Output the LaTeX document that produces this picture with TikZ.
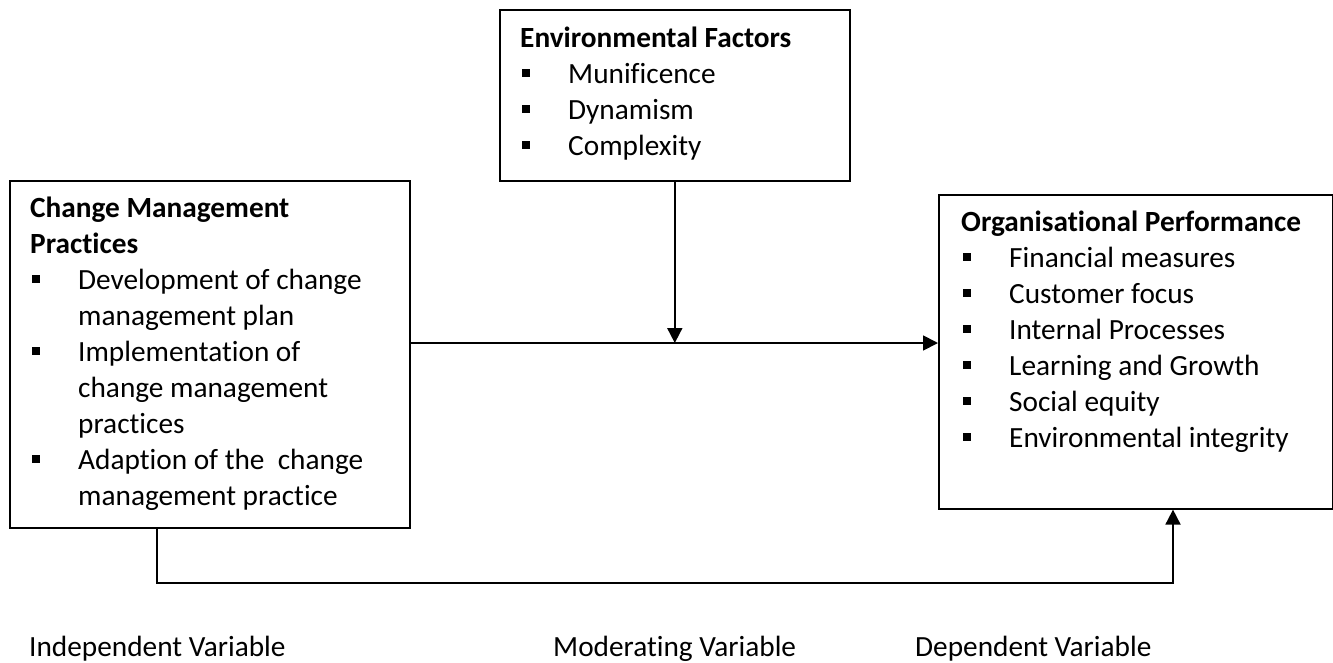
\documentclass[tikz,border=0pt]{standalone}
\usepackage{fontspec}
\setmainfont{Carlito}[Ligatures=NoCommon]
\usetikzlibrary{arrows.meta}
\newcommand{\sqb}{\makebox[48pt][l]{\hspace{2pt}\raisebox{6pt}{\rule{8pt}{8pt}}}}
\newcommand{\ind}{\hspace*{48pt}}
\begin{document}
\begin{tikzpicture}[x=1pt,y=-1pt,
  box/.style={draw, line width=1.6pt, anchor=north west, inner sep=0pt},
  txt/.style={anchor=north west, align=left, inner sep=0pt, font=\fontsize{29.3}{36}\selectfont},
  lab/.style={anchor=base west, inner sep=0pt, font=\fontsize{29.3}{36}\selectfont},
  conn/.style={line width=1.8pt},
  arr/.style={conn, -{Triangle[length=15pt,width=15pt]}}]
\useasboundingbox (0,0) rectangle (1333,662);
% boxes
\node[box, minimum width=400pt, minimum height=347pt] (cm) at (9,180) {};
\node[box, minimum width=350pt, minimum height=171pt] (ef) at (499,9) {};
\node[box, minimum width=394pt, minimum height=314pt] (op) at (938,194) {};
% texts
\node[txt] (cmt) at (30,191.8) {\strut\textbf{Change Management}\\
\textbf{Practices}\\
\sqb Development of change\\
\ind management plan\\
\sqb Implementation of\\
\ind change management\\
\ind practices\\
\sqb Adaption of the\ \ change\\
\ind management practice};
\node[txt] (eft) at (520,21.8) {\strut\textbf{Environmental Factors}\\
\sqb Munificence\\
\sqb Dynamism\\
\sqb Complexity};
\node[txt] (opt) at (961,205.8) {\strut\textbf{Organisational Performance}\\
\sqb Financial measures\\
\sqb Customer focus\\
\sqb Internal Processes\\
\sqb Learning and Growth\\
\sqb Social equity\\
\sqb Environmental integrity};
% connectors
\coordinate (mid) at (ef.south |- 0,343);
\coordinate (b1) at (157,583);
\coordinate (b2) at (1173,583);
\draw[arr] (cm.east |- mid) -- (op.west |- mid);
\draw[arr] (ef.south) -- (mid);
\draw[arr] (b1 |- cm.south) -- (b1) -- (b2) -- (b2 |- op.south);
% labels
\node[lab] (iv) at (29,656) {Independent Variable};
\node[lab] (mv) at (553,656) {Moderating Variable};
\node[lab] (dv) at (915,656) {Dependent Variable};
\end{tikzpicture}
\end{document}
